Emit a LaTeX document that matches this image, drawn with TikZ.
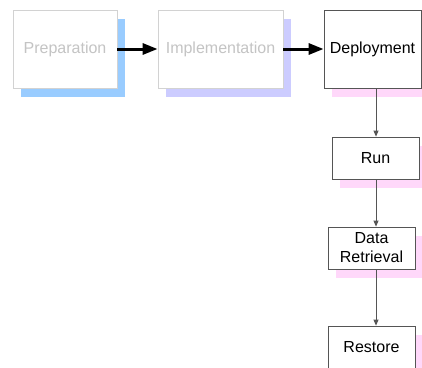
\documentclass[tikz,border=0pt]{standalone}
\usepackage{fontspec}
\setmainfont{Liberation Sans}
\usepackage{tikz}
\usetikzlibrary{arrows.meta,shadows}

\definecolor{faded}{HTML}{C4C4C4}
\definecolor{fadedline}{HTML}{D2D2D2}
\definecolor{boxline}{HTML}{555555}
\definecolor{blueshade}{HTML}{99CCFF}
\definecolor{lilacshade}{HTML}{CCCCFF}
\definecolor{pinkshade}{HTML}{FFD8FA}

\tikzset{
	stage/.style={draw, fill=white, inner sep=0pt, line width=0.8pt,
		font=\fontsize{16}{19}\selectfont, align=center},
	done/.style={stage, draw=fadedline, text=faded},
	todo/.style={stage, draw=boxline, text=black},
	shade/.style={drop shadow={shadow xshift=8pt, shadow yshift=-8.5pt, fill=#1, opacity=1}},
	bigarrow/.style={line width=3pt, -{Triangle[length=15pt,width=11pt]}},
	smallarrow/.style={line width=0.8pt, draw=boxline, -{Triangle[length=6pt,width=5pt]}}
}

\begin{document}
\begin{tikzpicture}[x=1pt, y=-1pt]
	\useasboundingbox[fill=white] (0,0) rectangle (422,367);
	% top row
	\node[done, shade=blueshade, minimum width=104pt, minimum height=78pt] (prep) at (65,49) {Preparation};
	\node[done, shade=lilacshade, minimum width=125pt, minimum height=78pt] (impl) at (220.5,49) {Implementation};
	\node[todo, shade=pinkshade, minimum width=97pt, minimum height=78pt] (deploy) at (372.5,49) {Deployment};
	% column below deployment
	\node[todo, shade=pinkshade, minimum width=87pt, minimum height=42pt] (run) at (375.5,158) {Run};
	\node[todo, shade=pinkshade, minimum width=87pt, minimum height=42pt] (retr) at (371.5,248) {Data\\Retrieval};
	\node[todo, shade=pinkshade, minimum width=87pt, minimum height=42pt] (restore) at (371.5,347) {Restore};
	\coordinate (col) at (376,0);
	\draw[bigarrow] (prep) -- (impl);
	\draw[bigarrow] (impl) -- (deploy);
	\draw[smallarrow] (deploy.south -| col) -- (run.north -| col);
	\draw[smallarrow] (run.south -| col) -- (retr.north -| col);
	\draw[smallarrow] (retr.south -| col) -- (restore.north -| col);
\end{tikzpicture}
\end{document}
